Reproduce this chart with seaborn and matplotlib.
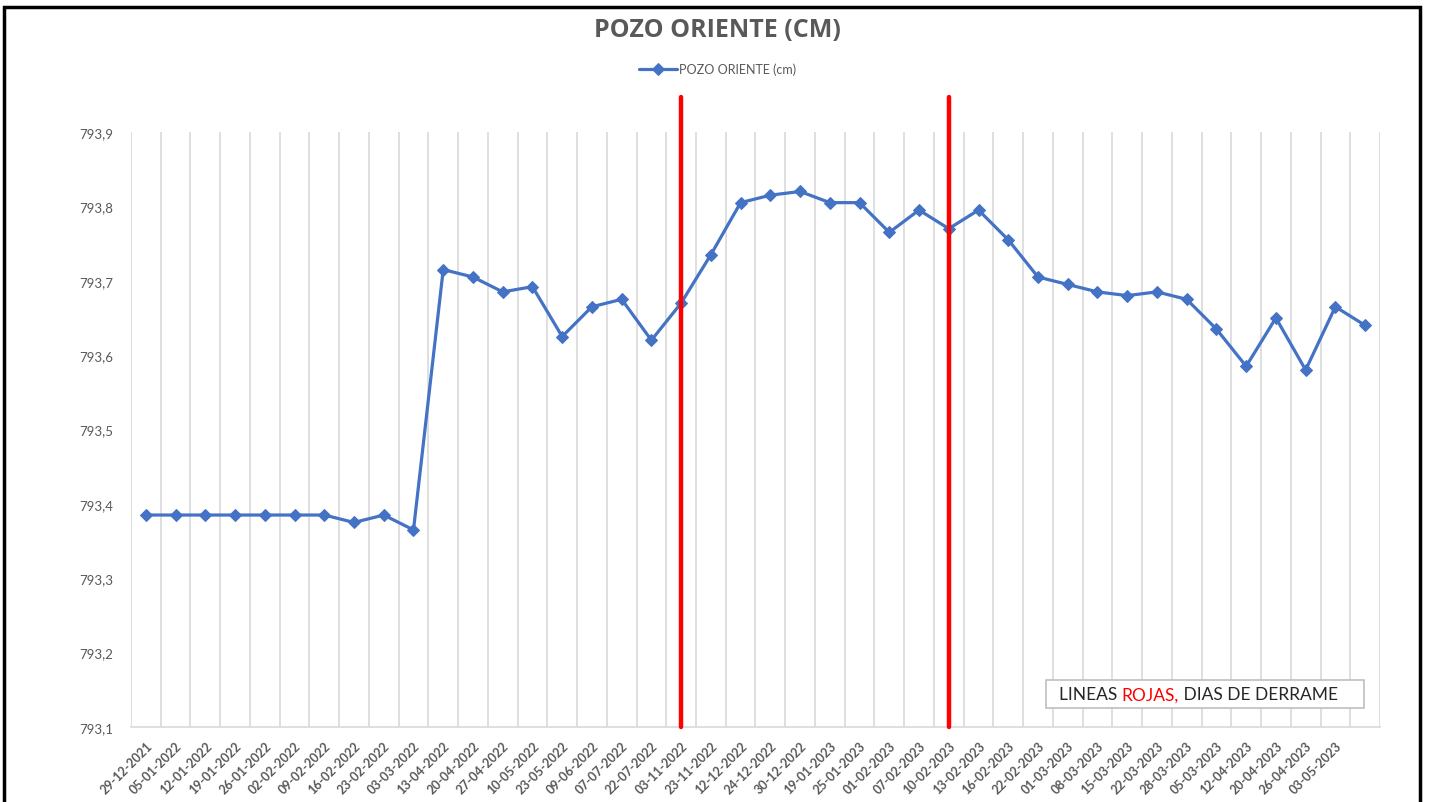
import numpy as np
import pandas as pd
import matplotlib
matplotlib.use("Agg")
import matplotlib.pyplot as plt
from matplotlib.patches import Rectangle
import seaborn as sns

# ---------------- data ----------------
fechas = [
    "29-12-2021", "05-01-2022", "12-01-2022", "19-01-2022", "26-01-2022",
    "02-02-2022", "09-02-2022", "16-02-2022", "23-02-2022", "03-03-2022",
    "13-04-2022", "20-04-2022", "27-04-2022", "10-05-2022", "23-05-2022",
    "09-06-2022", "07-07-2022", "22-07-2022", "03-11-2022", "23-11-2022",
    "12-12-2022", "24-12-2022", "30-12-2022", "19-01-2023", "25-01-2023",
    "01-02-2023", "07-02-2023", "10-02-2023", "13-02-2023", "16-02-2023",
    "22-02-2023", "01-03-2023", "08-03-2023", "15-03-2023", "22-03-2023",
    "28-03-2023", "05-03-2023", "12-04-2023", "20-04-2023", "26-04-2023",
    "03-05-2023", "",
]
pozo_oriente = [
    793.385, 793.385, 793.385, 793.385, 793.385, 793.385, 793.385, 793.375,
    793.385, 793.365, 793.715, 793.705, 793.685, 793.692, 793.625, 793.665,
    793.675, 793.620, 793.670, 793.735, 793.805, 793.815, 793.820, 793.805,
    793.805, 793.765, 793.795, 793.770, 793.795, 793.755, 793.705, 793.695,
    793.685, 793.680, 793.685, 793.675, 793.635, 793.585, 793.650, 793.580,
    793.665, 793.640,
]
derrame_fechas = ["03-11-2022", "10-02-2023"]
y_ticks = [793.1, 793.2, 793.3, 793.4, 793.5, 793.6, 793.7, 793.8, 793.9]

df = pd.DataFrame({"idx": np.arange(len(pozo_oriente)), "valor": pozo_oriente})

# ---------------- style ----------------
sns.set_style("white")
plt.rcParams["font.family"] = ["Lato", "DejaVu Sans"]

fig = plt.figure(figsize=(14.33, 8.03), dpi=100)
ax = fig.add_axes([0.0914, 0.0934, 0.8716, 0.741])

blue = "#4472C4"
grid_c = "#D9D9D9"
txt_c = "#595959"

sns.lineplot(data=df, x="idx", y="valor", ax=ax, color=blue, linewidth=2.3,
             marker="D", markersize=6, markeredgecolor=blue, markerfacecolor=blue,
             label="POZO ORIENTE (cm)", legend=False)

n = len(pozo_oriente)
ax.set_xlim(-0.5, n - 0.5)
ax.set_ylim(793.1, 793.9)

# vertical gridlines at category boundaries
ax.set_xticks(np.arange(n))
ax.set_xticklabels(fechas, rotation=45, ha="right", rotation_mode="anchor",
                   fontsize=9, color=txt_c, fontweight="bold")
ax.set_xticks(np.arange(-0.5, n, 1.0), minor=True)
ax.grid(False)
ax.xaxis.grid(True, which="minor", color=grid_c, linewidth=1.2)
ax.tick_params(axis="x", which="both", length=0, pad=9)

ax.set_yticks(y_ticks)
ax.set_yticklabels([f"{v:.1f}".replace(".", ",") for v in y_ticks],
                   fontsize=9.5, color=txt_c)
ax.tick_params(axis="y", length=0, pad=13)

for s in ["top", "right", "left"]:
    ax.spines[s].set_visible(False)
ax.spines["bottom"].set_color(grid_c)
ax.spines["bottom"].set_linewidth(1.2)
ax.set_xlabel("")
ax.set_ylabel("")

# red lines: spill days
for d in derrame_fechas:
    xi = fechas.index(d)
    ax.plot([xi, xi], [793.1, 793.947], color="#FF0000", linewidth=3.2,
            clip_on=False, zorder=5)

# title & legend
fig.text(0.501, 0.962, "POZO ORIENTE (CM)", ha="center", va="center",
         fontsize=18, fontweight="bold", color=txt_c, family="Open Sans")
leg = ax.legend(loc="upper center", bbox_to_anchor=(0.47, 1.135), frameon=False,
                fontsize=9, handlelength=3, handletextpad=0.2)
for t in leg.get_texts():
    t.set_color(txt_c)

# annotation box
box = Rectangle((0.733, 0.032), 0.254, 0.047, transform=ax.transAxes,
                facecolor="white", edgecolor="#BFBFBF", linewidth=1.2, zorder=6)
ax.add_patch(box)
parts = [("LINEAS ", "#262626"), ("ROJAS,", "#FF0000"), (" DIAS DE DERRAME", "#262626")]
fig.canvas.draw()
renderer = fig.canvas.get_renderer()
x0 = 0.743
inv = ax.transAxes.inverted()
for s, c in parts:
    t = ax.text(x0, 0.055, s, transform=ax.transAxes, fontsize=12.5, color=c,
                ha="left", va="center", zorder=7)
    bb = t.get_window_extent(renderer=renderer)
    p = inv.transform([[bb.x0, bb.y0], [bb.x1, bb.y1]])
    x0 = p[1][0]

# outer chart border
fig.patches.append(Rectangle((0.0025, -0.05), 0.9885, 0.05 + 0.9905,
                             transform=fig.transFigure, fill=False,
                             edgecolor="black", linewidth=2.5))

fig.savefig("out.png", dpi=100)
